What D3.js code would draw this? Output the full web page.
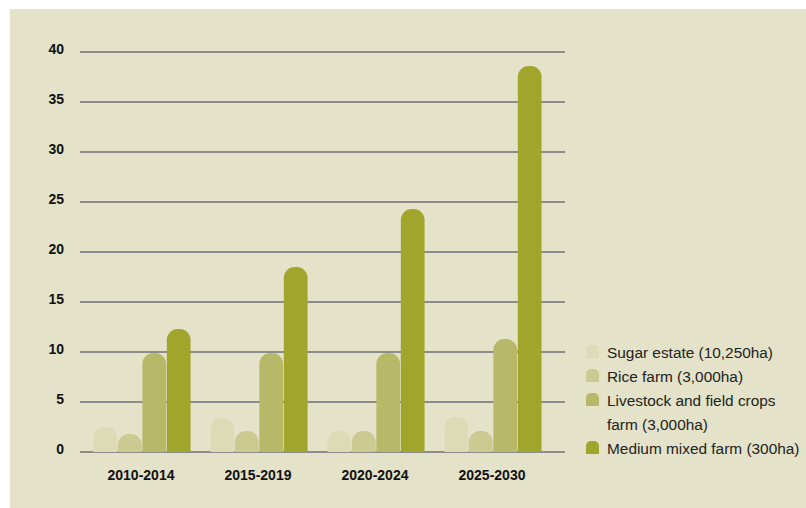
<html>
<head>
<style type="text/css">
	body{ margin:0; background:#fff; }
	svg{ display:block; }
</style>
<script src="https://cdn.jsdelivr.net/npm/d3@7"></script>
</head>
<body>
<svg id="svg" width="806" height="508"></svg>
<script type="text/javascript">

	var periods = ["2010-2014", "2015-2019", "2020-2024", "2025-2030"];
	var seriesNames = ["Sugar estate (10,250ha)", "Rice farm (3,000ha)", "Livestock and field crops farm (3,000ha)", "Medium mixed farm (300ha)"];
	var sugar = [2.5, 3.4, 2.1, 3.5];
	var rice = [1.8, 2.1, 2.1, 2.1];
	var livestock = [9.9, 9.9, 9.9, 11.3];
	var mixed = [12.3, 18.5, 24.3, 38.6];
	var yTicks = [0, 5, 10, 15, 20, 25, 30, 35, 40];
	var colors = ["#dddbb5", "#cbca91", "#b8b968", "#a2a52b"];

	var series = [sugar, rice, livestock, mixed];

	var svg = d3.select("#svg");
	svg.append("rect").attr("x",10).attr("y",9).attr("width",796).attr("height",499).style("fill","#e4e2c8");

	var y = d3.scaleLinear().domain([0,40]).range([452,52]);
	var x0 = d3.scaleBand().domain(periods).range([83.5,551.5]).paddingInner(0.17).paddingOuter(0.085);
	var x1 = d3.scaleBand().domain(d3.range(4)).range([0,x0.bandwidth()]).paddingInner(0.03);

	//gridlines
	svg.append("g").selectAll("line").data(yTicks).enter().append("line")
		.attr("x1",80).attr("x2",565)
		.attr("y1",function(d){ return y(d); })
		.attr("y2",function(d){ return y(d); })
		.style("stroke","#8c8c8c").style("stroke-width",2);

	svg.append("g").selectAll("text").data(yTicks).enter().append("text")
		.attr("x",64).attr("y",function(d){ return y(d)+1.5; })
		.attr("text-anchor","end")
		.style("font-family","Liberation Sans, Arial, sans-serif").style("font-weight","bold").style("font-size","14px").style("fill","#111")
		.text(function(d){ return d; });

	function topRounded(x, yTop, w, h, r){
		r = Math.min(r, w/2, h);
		return "M"+x+","+(yTop+h)+"V"+(yTop+r)+"A"+r+","+r+" 0 0 1 "+(x+r)+","+yTop
			+"H"+(x+w-r)+"A"+r+","+r+" 0 0 1 "+(x+w)+","+(yTop+r)+"V"+(yTop+h)+"Z";
	}

	//bars
	var groups = svg.append("g").selectAll("g").data(periods).enter().append("g")
		.attr("transform", function(d){ return "translate("+x0(d)+",0)"; });

	groups.selectAll("path").data(function(d,i){ return series.map(function(s,k){ return {k:k, v:s[i]}; }); })
		.enter().append("path")
		.attr("d", function(d){ return topRounded(x1(d.k), y(d.v), x1.bandwidth(), y(0)-y(d.v), 11); })
		.style("fill", function(d){ return colors[d.k]; });

	svg.append("g").selectAll("text").data(periods).enter().append("text")
		.attr("x", function(d){ return x0(d)+x0.bandwidth()/2 - 1; })
		.attr("y", 480)
		.attr("text-anchor","middle")
		.style("font-family","Liberation Sans, Arial, sans-serif").style("font-weight","bold").style("font-size","14px").style("fill","#111")
		.text(function(d){ return d; });

	//legend
	var legendLines = [["Sugar estate (10,250ha)"], ["Rice farm (3,000ha)"], ["Livestock and field crops", "farm (3,000ha)"], ["Medium mixed farm (300ha)"]];
	var legendY = [352, 376, 400, 448];
	var lg = svg.append("g").selectAll("g").data(legendLines).enter().append("g")
		.attr("transform", function(d,i){ return "translate(586,"+legendY[i]+")"; });
	lg.append("path")
		.attr("d", function(){ return topRounded(0,-7,13,13,5); })
		.style("fill", function(d,i){ return colors[i]; });
	lg.append("text")
		.attr("x",21).attr("y",5.5)
		.style("font-family","Liberation Sans, Arial, sans-serif").style("font-size","15.4px").style("fill","#222")
		.selectAll("tspan").data(function(d){ return d; }).enter().append("tspan")
		.attr("x",21).attr("dy", function(d,j){ return j ? 24 : 0; })
		.text(function(d){ return d; });

</script>
</body>
</html>
